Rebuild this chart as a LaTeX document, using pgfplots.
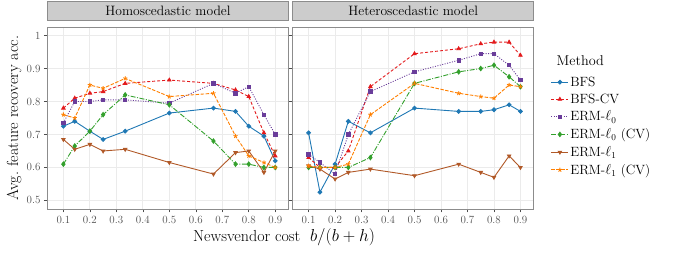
\documentclass[border=0pt]{standalone}
\usepackage{pgfplots}
\pgfplotsset{compat=1.18}
\usepackage{pgfplotstable}
\definecolor{cBFS}{HTML}{1F78B4}
\definecolor{cBFSCV}{HTML}{E31A1C}
\definecolor{cL0}{HTML}{6A3D9A}
\definecolor{cL0CV}{HTML}{33A02C}
\definecolor{cL1}{HTML}{B15928}
\definecolor{cL1CV}{HTML}{FF7F00}
\definecolor{gridc}{HTML}{EBEBEB}
\definecolor{stripc}{HTML}{CCCCCC}
\definecolor{borderc}{HTML}{8C8C8C}
\definecolor{tickc}{HTML}{4D4D4D}

\pgfplotstableread{
x bfs bfscv l0 l0cv l1 l1cv
0.1 0.725 0.78 0.735 0.61 0.685 0.76
0.142857 0.74 0.81 0.80 0.665 0.655 0.75
0.2 0.71 0.825 0.80 0.71 0.67 0.85
0.25 0.685 0.83 0.805 0.76 0.65 0.84
0.333333 0.71 0.855 0.805 0.82 0.655 0.87
0.5 0.765 0.865 0.795 0.79 0.615 0.815
0.666667 0.78 0.855 0.855 0.68 0.58 0.825
0.75 0.77 0.835 0.825 0.61 0.645 0.695
0.8 0.725 0.815 0.845 0.61 0.65 0.635
0.857143 0.695 0.705 0.76 0.60 0.585 0.615
0.9 0.62 0.635 0.70 0.60 0.65 0.60
}\homo

\pgfplotstableread{
x bfs bfscv l0 l0cv l1 l1cv
0.1 0.705 0.63 0.64 0.60 0.605 0.605
0.142857 0.525 0.60 0.615 0.60 0.595 0.60
0.2 0.61 0.60 0.58 0.60 0.565 0.60
0.25 0.74 0.65 0.70 0.60 0.585 0.61
0.333333 0.705 0.845 0.83 0.63 0.595 0.76
0.5 0.78 0.945 0.89 0.855 0.575 0.855
0.666667 0.77 0.96 0.925 0.89 0.61 0.825
0.75 0.77 0.975 0.945 0.90 0.585 0.815
0.8 0.775 0.98 0.945 0.91 0.57 0.81
0.857143 0.79 0.98 0.91 0.875 0.635 0.85
0.9 0.77 0.94 0.865 0.845 0.60 0.845
}\hetero

\pgfplotsset{
  panel/.style={
    scale only axis, width=241pt, height=182pt,
    xmin=0.04, xmax=0.95, ymin=0.474, ymax=1.026,
    xtick={0.1,0.2,...,0.9}, ytick={0.5,0.6,...,1.0},
    xticklabels={0.1,0.2,0.3,0.4,0.5,0.6,0.7,0.8,0.9},
    grid=major, major grid style={gridc, line width=0.9pt},
    axis line style={borderc, line width=0.8pt},
    tick style={tickc, line width=0.6pt},
    tick align=outside, major tick length=3.5pt,
    xtick pos=bottom, ytick pos=left,
    tick label style={font=\fontsize{11}{13}\selectfont, text=tickc},
    axis on top=false,
    title style={at={(0.5,1)}, anchor=south, yshift=0.4pt, fill=stripc, draw=borderc, line width=0.8pt,
      minimum width=241pt, minimum height=19.2pt, inner sep=0pt, font=\fontsize{13.6}{15}\selectfont},
    every axis plot/.append style={line width=0.9pt, mark size=1.9pt},
  },
  sBFS/.style={cBFS, solid, mark=*, mark options={solid}},
  sBFSCV/.style={cBFSCV, dash pattern=on 3pt off 2pt, mark=triangle*, mark options={solid}},
  sL0/.style={cL0, dash pattern=on 1pt off 1.5pt, mark=square*, mark size=1.7pt, mark options={solid}},
  sL0CV/.style={cL0CV, dash pattern=on 5pt off 1.5pt on 1pt off 1.5pt, mark=diamond*, mark size=2.2pt, mark options={solid}},
  sL1/.style={cL1, solid, mark=triangle*, mark options={solid, rotate=180}},
  sL1CV/.style={cL1CV, dash pattern=on 3.5pt off 1.5pt, mark=star, mark size=2.2pt, mark options={solid, line width=0.8pt}},
}

\begin{document}
\begin{tikzpicture}
\useasboundingbox (0,0) rectangle (681pt,253pt);
\begin{axis}[panel, at={(47.5pt,44pt)}, anchor=south west,
  title={Homoscedastic model},
  ylabel={Avg.\ feature recovery acc.},
  ylabel style={at={(axis description cs:-0.139,0.5)}, anchor=center, font=\fontsize{16}{18}\selectfont},
  yticklabels={0.5,0.6,0.7,0.8,0.9,1},
]
\addplot[sBFS] table[x=x,y=bfs]{\homo};
\addplot[sBFSCV] table[x=x,y=bfscv]{\homo};
\addplot[sL0] table[x=x,y=l0]{\homo};
\addplot[sL0CV] table[x=x,y=l0cv]{\homo};
\addplot[sL1] table[x=x,y=l1]{\homo};
\addplot[sL1CV] table[x=x,y=l1cv]{\homo};
\end{axis}
\begin{axis}[panel, at={(292.7pt,44pt)}, anchor=south west,
  title={Heteroscedastic model},
  yticklabels={},
  legend cell align=left,
  legend style={at={(axis description cs:1,0.455)}, anchor=west, xshift=17pt, draw=none, fill=none,
    font=\fontsize{13.4}{15}\selectfont, row sep=3.2pt, inner sep=0pt,
    nodes={inner sep=1.5pt}},
]
\addplot[sBFS] table[x=x,y=bfs]{\hetero};
\addlegendentry{BFS}
\addplot[sBFSCV] table[x=x,y=bfscv]{\hetero};
\addlegendentry{BFS-CV}
\addplot[sL0] table[x=x,y=l0]{\hetero};
\addlegendentry{ERM-$\ell_0$}
\addplot[sL0CV] table[x=x,y=l0cv]{\hetero};
\addlegendentry{ERM-$\ell_0$ (CV)}
\addplot[sL1] table[x=x,y=l1]{\hetero};
\addlegendentry{ERM-$\ell_1$}
\addplot[sL1CV] table[x=x,y=l1cv]{\hetero};
\addlegendentry{ERM-$\ell_1$ (CV)}
\end{axis}
\node[anchor=west, font=\fontsize{14.2}{16}\selectfont, inner sep=0pt] at (556.5pt,192pt) {Method};
\node[anchor=center, font=\fontsize{16}{18}\selectfont, inner sep=0pt] at (284pt,16pt) {Newsvendor cost\ \ $b/(b+h)$};
\end{tikzpicture}
\end{document}
